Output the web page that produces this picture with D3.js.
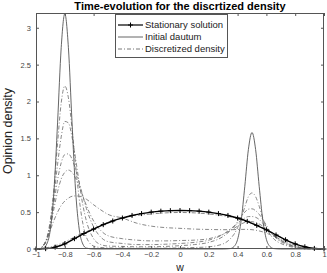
<!DOCTYPE html>
<html>
<head>
<meta charset="utf-8">
<script src="https://cdn.jsdelivr.net/npm/d3@7"></script>
<style>
  body { margin: 0; background: #fff; }
</style>
</head>
<body>
<div class="main"></div>
<script>
const width = 327;
const height = 273;
const margin = ({top: 13, right: 3, bottom: 24, left: 36});

// common opinion grid (finer near the two bumps)
const w = [-1, -0.975, -0.95, -0.925, -0.9, -0.875, -0.85, -0.825, -0.8, -0.775, -0.75, -0.725, -0.7, -0.675, -0.65,
  -0.6, -0.55, -0.5, -0.4, -0.3, -0.2, -0.1, 0, 0.1, 0.2, 0.3, 0.35, 0.375, 0.4, 0.425, 0.45, 0.475, 0.5,
  0.525, 0.55, 0.575, 0.6, 0.625, 0.65, 0.7, 0.75, 0.8, 0.85, 0.9, 0.95, 1];

const initial = [0, 0, 0.012, 0.068, 0.27, 0.79, 1.72, 2.73, 3.19, 2.73, 1.72, 0.79, 0.27, 0.068, 0.012,
  0, 0, 0, 0, 0, 0, 0, 0, 0, 0, 0, 0.006, 0.033, 0.13, 0.39, 0.85, 1.35, 1.58,
  1.35, 0.85, 0.39, 0.13, 0.033, 0.006, 0, 0, 0, 0, 0, 0, 0];

// discretized density at successive times
const dens1 = [0, 0.005, 0.05, 0.15, 0.4, 0.84, 1.44, 1.98, 2.21, 2.05, 1.64, 1.14, 0.68, 0.35, 0.16,
  0.04, 0.02, 0.015, 0.012, 0.01, 0.01, 0.012, 0.015, 0.02, 0.03, 0.07, 0.14, 0.2, 0.29, 0.42, 0.57, 0.71, 0.76,
  0.71, 0.58, 0.42, 0.29, 0.2, 0.14, 0.075, 0.04, 0.018, 0.007, 0.002, 0, 0];
const dens2 = [0, 0.006, 0.04, 0.14, 0.36, 0.72, 1.15, 1.52, 1.73, 1.71, 1.52, 1.22, 0.9, 0.6, 0.38,
  0.14, 0.06, 0.04, 0.035, 0.03, 0.03, 0.035, 0.045, 0.06, 0.09, 0.17, 0.25, 0.3, 0.37, 0.44, 0.5, 0.54, 0.545,
  0.52, 0.47, 0.4, 0.32, 0.24, 0.18, 0.1, 0.055, 0.025, 0.01, 0.003, 0, 0];
const dens3 = [0, 0.006, 0.04, 0.13, 0.33, 0.63, 0.94, 1.17, 1.28, 1.29, 1.22, 1.08, 0.9, 0.72, 0.55,
  0.3, 0.16, 0.1, 0.075, 0.06, 0.06, 0.065, 0.075, 0.09, 0.12, 0.2, 0.27, 0.31, 0.35, 0.39, 0.42, 0.44, 0.44,
  0.43, 0.4, 0.35, 0.29, 0.23, 0.18, 0.11, 0.065, 0.03, 0.012, 0.004, 0, 0];
const dens4 = [0, 0.006, 0.04, 0.12, 0.3, 0.55, 0.78, 0.95, 1.04, 1.07, 1.04, 0.96, 0.85, 0.72, 0.59,
  0.38, 0.25, 0.18, 0.14, 0.12, 0.11, 0.11, 0.115, 0.12, 0.14, 0.2, 0.25, 0.28, 0.31, 0.34, 0.36, 0.37, 0.37,
  0.36, 0.34, 0.31, 0.27, 0.23, 0.19, 0.12, 0.07, 0.035, 0.015, 0.005, 0, 0];
const dens5 = [0, 0.008, 0.05, 0.13, 0.26, 0.39, 0.5, 0.59, 0.65, 0.69, 0.715, 0.72, 0.715, 0.7, 0.675,
  0.6, 0.53, 0.47, 0.42, 0.35, 0.31, 0.29, 0.28, 0.27, 0.265, 0.262, 0.262, 0.263, 0.265, 0.266, 0.266, 0.265, 0.262,
  0.255, 0.245, 0.232, 0.215, 0.195, 0.175, 0.13, 0.09, 0.05, 0.022, 0.007, 0.001, 0];
const dens6 = [0, 0.004, 0.01, 0.018, 0.028, 0.04, 0.055, 0.075, 0.095, 0.12, 0.145, 0.17, 0.195, 0.215, 0.235,
  0.28, 0.32, 0.36, 0.42, 0.455, 0.475, 0.49, 0.495, 0.49, 0.475, 0.45, 0.435, 0.425, 0.41, 0.395, 0.38, 0.365, 0.345,
  0.33, 0.31, 0.29, 0.265, 0.24, 0.215, 0.16, 0.11, 0.065, 0.03, 0.01, 0.002, 0];

// stationary solution (drawn with + markers)
const wStat = [-1, -0.933, -0.867, -0.8, -0.733, -0.667, -0.6, -0.533, -0.467, -0.4, -0.333, -0.267, -0.2, -0.133, -0.067,
  0, 0.067, 0.133, 0.2, 0.267, 0.333, 0.4, 0.467, 0.533, 0.6, 0.667, 0.733, 0.8, 0.867, 0.933, 1];
const stationary = [0, 0.005, 0.025, 0.07, 0.14, 0.21, 0.27, 0.33, 0.38, 0.42, 0.455, 0.48, 0.5, 0.513, 0.52,
  0.522, 0.52, 0.513, 0.5, 0.48, 0.455, 0.42, 0.375, 0.32, 0.26, 0.19, 0.125, 0.07, 0.03, 0.008, 0];

const xTicks = [-1, -0.8, -0.6, -0.4, -0.2, 0, 0.2, 0.4, 0.6, 0.8, 1];
const yTicks = [0, 0.5, 1, 1.5, 2, 2.5, 3];

const font = 'Liberation Sans, Arial, Helvetica, sans-serif';
const axisColor = '#555';

const svg = d3.select('.main')
  .append('svg')
  .attr('width', width)
  .attr('height', height)
  .style('font-family', font);

const x = d3.scaleLinear()
  .domain([-1, 1])
  .range([margin.left, width - margin.right]);

const y = d3.scaleLinear()
  .domain([0, 3.2])
  .range([height - margin.bottom, margin.top]);

const line = d3.line()
  .x(d => x(d[0]))
  .y(d => y(d[1]))
  .curve(d3.curveMonotoneX);

const zip = (a, b) => a.map((v, i) => [v, b[i]]);

// dash-dot curves
const plot = svg.append('g');
[dens1, dens2, dens3, dens4, dens5, dens6].forEach(dens => {
  plot.append('path')
    .attr('d', line(zip(w, dens)))
    .attr('fill', 'none')
    .attr('stroke', '#6a6a6a')
    .attr('stroke-width', 0.8)
    .attr('stroke-dasharray', '4,2,1,2');
});

// initial datum
plot.append('path')
  .attr('d', line(zip(w, initial)))
  .attr('fill', 'none')
  .attr('stroke', '#555')
  .attr('stroke-width', 0.9);

// stationary solution
const stat = zip(wStat, stationary);
plot.append('path')
  .attr('d', line(stat))
  .attr('fill', 'none')
  .attr('stroke', '#000')
  .attr('stroke-width', 1.4);

plot.append('g')
  .selectAll('path')
  .data(stat)
  .enter()
  .append('path')
  .attr('transform', d => `translate(${x(d[0])},${y(d[1])})`)
  .attr('d', 'M-2.5,0H2.5M0,-2.5V2.5')
  .attr('stroke', '#000')
  .attr('stroke-width', 1);

// axes, ticks pointing inward on all four sides
const styleAxis = g => {
  g.select('.domain').remove();
  g.selectAll('line').attr('stroke', axisColor);
  g.selectAll('text').attr('fill', '#444').style('font-size', '7.5px').style('font-family', font);
};

svg.append('g')
  .attr('transform', `translate(0,${height - margin.bottom})`)
  .call(d3.axisBottom(x).tickValues(xTicks).tickSize(-3).tickPadding(3).tickFormat(d3.format('')))
  .call(styleAxis);

svg.append('g')
  .attr('transform', `translate(0,${margin.top})`)
  .call(d3.axisTop(x).tickValues(xTicks).tickSize(-3).tickFormat(''))
  .call(styleAxis);

svg.append('g')
  .attr('transform', `translate(${margin.left},0)`)
  .call(d3.axisLeft(y).tickValues(yTicks).tickSize(-3).tickPadding(5).tickFormat(d3.format('')))
  .call(styleAxis);

svg.append('g')
  .attr('transform', `translate(${width - margin.right},0)`)
  .call(d3.axisRight(y).tickValues(yTicks).tickSize(-3).tickFormat(''))
  .call(styleAxis);

svg.append('rect')
  .attr('x', margin.left + 0.5)
  .attr('y', margin.top + 0.5)
  .attr('width', width - margin.left - margin.right - 1)
  .attr('height', height - margin.top - margin.bottom - 1)
  .attr('fill', 'none')
  .attr('stroke', axisColor)
  .attr('stroke-width', 1);

// titles
svg.append('text')
  .attr('x', (margin.left + width - margin.right) / 2)
  .attr('y', 10)
  .attr('text-anchor', 'middle')
  .style('font-size', '11px')
  .style('font-weight', 'bold')
  .text('Time-evolution for the discrtized density');

svg.append('text')
  .attr('x', (margin.left + width - margin.right) / 2)
  .attr('y', 271)
  .attr('text-anchor', 'middle')
  .style('font-size', '10.5px')
  .attr('fill', '#222')
  .text('w');

svg.append('text')
  .attr('transform', `translate(12,${(margin.top + height - margin.bottom) / 2}) rotate(-90)`)
  .attr('text-anchor', 'middle')
  .style('font-size', '12.5px')
  .attr('fill', '#222')
  .text('Opinion density');

// legend
const legendItems = ['Stationary solution', 'Initial dautum', 'Discretized density'];
const legend = svg.append('g').attr('transform', 'translate(115,14)');
legend.append('rect')
  .attr('x', 0.5).attr('y', 0.5)
  .attr('width', 112).attr('height', 43)
  .attr('fill', '#fff')
  .attr('stroke', axisColor);

legendItems.forEach((label, i) => {
  const ly = 11 + i * 12;
  const g = legend.append('g');
  const l = g.append('line')
    .attr('x1', 3).attr('x2', 28)
    .attr('y1', ly).attr('y2', ly);
  if (i === 0) {
    l.attr('stroke', '#000').attr('stroke-width', 1.2);
    g.append('path')
      .attr('d', `M13,${ly}h5M15.5,${ly - 2.5}v5`)
      .attr('stroke', '#000');
  } else if (i === 1) {
    l.attr('stroke', '#555').attr('stroke-width', 0.9);
  } else {
    l.attr('stroke', '#6a6a6a').attr('stroke-width', 0.9).attr('stroke-dasharray', '4,2,1,2');
  }
  g.append('text')
    .attr('x', 30)
    .attr('y', ly)
    .attr('dy', '0.35em')
    .style('font-size', '9.5px')
    .attr('fill', '#222')
    .text(label);
});
</script>
</body>
</html>
